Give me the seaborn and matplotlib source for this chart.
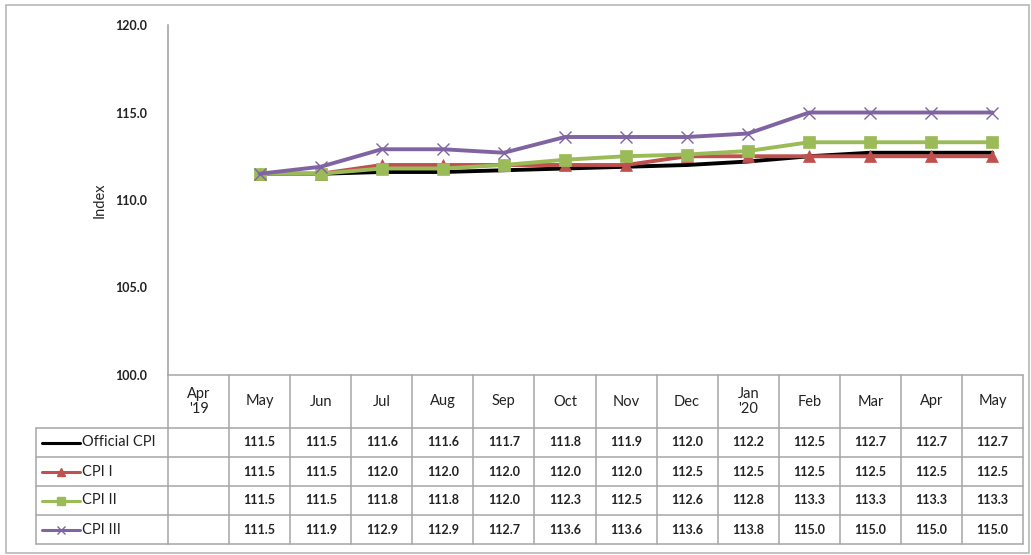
import numpy as np
import pandas as pd
import matplotlib
matplotlib.use("Agg")
import matplotlib.pyplot as plt
import matplotlib.transforms as mtransforms
from matplotlib.patches import Rectangle
import seaborn as sns

# -------------------------------------------------------
# DATA
# -------------------------------------------------------
months = ["Apr\n'19", "May", "Jun", "Jul", "Aug", "Sep", "Oct", "Nov",
          "Dec", "Jan\n'20", "Feb", "Mar", "Apr", "May"]
official_cpi = [None, 111.5, 111.5, 111.6, 111.6, 111.7, 111.8, 111.9, 112.0, 112.2, 112.5, 112.7, 112.7, 112.7]
cpi_1 = [None, 111.5, 111.5, 112.0, 112.0, 112.0, 112.0, 112.0, 112.5, 112.5, 112.5, 112.5, 112.5, 112.5]
cpi_2 = [None, 111.5, 111.5, 111.8, 111.8, 112.0, 112.3, 112.5, 112.6, 112.8, 113.3, 113.3, 113.3, 113.3]
cpi_3 = [None, 111.5, 111.9, 112.9, 112.9, 112.7, 113.6, 113.6, 113.6, 113.8, 115.0, 115.0, 115.0, 115.0]

series_names = ["Official CPI", "CPI I", "CPI II", "CPI III"]
series_values = [official_cpi, cpi_1, cpi_2, cpi_3]
colors = ["#000000", "#C0504D", "#9BBB59", "#8064A2"]
markers = [None, "^", "s", "x"]
y_ticks = [100.0, 105.0, 110.0, 115.0, 120.0]

sns.set_theme(style="white")
plt.rcParams["font.family"] = ["Lato", "DejaVu Sans"]

W, H = 1031, 555
fig = plt.figure(figsize=(W / 100, H / 100), dpi=100)
fig.patch.set_facecolor("white")
fig.patches.append(Rectangle((6 / W, 2 / H), 1023 / W, 548 / H, transform=fig.transFigure,
                             fill=False, edgecolor="#B8B8B8", linewidth=1.2))

grid_c = "#A6A6A6"
text_c = "#222222"

# -------------------------------------------------------
# LINE CHART
# -------------------------------------------------------
ax = fig.add_axes([168 / W, 1 - 375 / H, (1023 - 168) / W, (375 - 25) / H])
for name, vals, c, m in zip(series_names, series_values, colors, markers):
    df = pd.DataFrame({"x": np.arange(len(months)), "y": vals}).dropna()
    sns.lineplot(data=df, x="x", y="y", ax=ax, color=c, linewidth=2.8,
                 marker=m, markersize=8 if m != "x" else 9,
                 markeredgecolor=c, markeredgewidth=1.0 if m == "x" else 0.5, label=name)
ax.get_legend().remove()
ax.set_xlim(-0.5, len(months) - 0.5)
ax.set_ylim(100, 120)
ax.set_yticks(y_ticks)
ax.set_yticklabels([f"{v:.1f}" for v in y_ticks], fontsize=9, fontweight="bold", color=text_c)
ax.tick_params(axis="y", length=0, pad=15)
ax.set_xticks([])
ax.set_xlabel("")
ax.set_ylabel("Index", fontsize=10.5, labelpad=6)
for s in ["top", "right", "bottom"]:
    ax.spines[s].set_visible(False)
ax.spines["left"].set_color(grid_c)
ax.spines["left"].set_linewidth(1.2)

# -------------------------------------------------------
# DATA TABLE
# -------------------------------------------------------
tax = fig.add_axes([36 / W, 1 - 544 / H, (1023 - 36) / W, (544 - 375) / H])
tax.set_xlim(0, 1)
tax.set_ylim(0, 1)
tax.axis("off")
tr = mtransforms.blended_transform_factory(ax.transData, tax.transAxes)

head_h = 53 / 169
row_h = 29 / 169
n = len(months)
edges = np.arange(n + 1) - 0.5
line_kw = dict(color=grid_c, linewidth=1.1, clip_on=False)

# column separators
for e in edges:
    tax.plot([e, e], [0, 1], transform=tr, **line_kw)
# row separators
for k in range(5):
    yk = k * row_h
    tax.plot([edges[0], edges[-1]], [yk, yk], transform=tr, **line_kw)
    tax.plot([0, 0.1335], [yk, yk], transform=tax.transAxes, **line_kw)
tax.plot([edges[0], edges[-1]], [1, 1], transform=tr, **line_kw)
tax.plot([0, 0], [0, 4 * row_h], transform=tax.transAxes, **line_kw)

# header text
for i, mth in enumerate(months):
    tax.text(i, 1 - head_h / 2, mth, transform=tr, ha="center", va="center",
             fontsize=10.5, color=text_c, linespacing=1.1)

# rows with legend keys
for r, (name, vals, c, m) in enumerate(zip(series_names, series_values, colors, markers)):
    yc = 4 * row_h - (r + 0.5) * row_h
    tax.plot([0.006, 0.045], [yc, yc], transform=tax.transAxes, color=c, linewidth=2.2,
             clip_on=False)
    if m is not None:
        tax.plot([0.0255], [yc], transform=tax.transAxes, color=c, marker=m,
                 markersize=6, markeredgecolor=c, clip_on=False)
    tax.text(0.047, yc, name, transform=tax.transAxes, ha="left", va="center",
             fontsize=10.5, color=text_c)
    for i, v in enumerate(vals):
        if v is None:
            continue
        tax.text(i, yc, f"{v:.1f}", transform=tr, ha="center", va="center",
                 fontsize=9, fontweight="bold", color=text_c)

fig.savefig("out.png", dpi=100, facecolor="white")
